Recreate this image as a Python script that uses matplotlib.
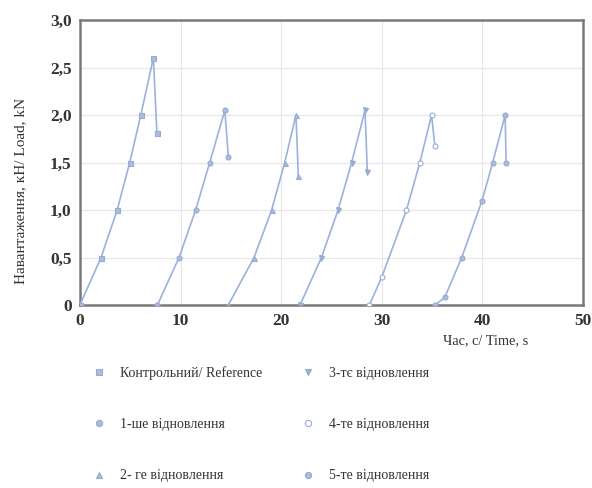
import matplotlib
matplotlib.use("Agg")
import matplotlib.pyplot as plt
from matplotlib.ticker import FuncFormatter

plt.rcParams['font.family'] = ['Liberation Serif', 'DejaVu Serif']

labels = ["Контрольний/ Reference", "1-ше відновлення", "2- ге відновлення",
          "3-тє відновлення", "4-те відновлення", "5-те відновлення"]

t_ref = [0.0, 2.1, 3.7, 4.95, 6.05, 7.3, 7.65]
p_ref = [0.0, 0.5, 1.0, 1.5, 2.0, 2.6, 1.81]

t_1 = [7.7, 9.85, 11.5, 12.9, 14.4, 14.75]
p_1 = [0.0, 0.5, 1.0, 1.5, 2.05, 1.56]

t_2 = [14.75, 17.3, 19.05, 20.35, 21.47, 21.7]
p_2 = [0.0, 0.5, 1.0, 1.5, 2.0, 1.36]

t_3 = [21.87, 24.0, 25.65, 27.0, 28.33, 28.56]
p_3 = [0.0, 0.5, 1.0, 1.5, 2.05, 1.40]

t_4 = [28.76, 29.98, 32.45, 33.78, 34.94, 35.27]
p_4 = [0.0, 0.29, 1.0, 1.5, 2.0, 1.67]

t_5 = [35.3, 36.25, 37.94, 39.93, 41.02, 42.25, 42.35]
p_5 = [0.0, 0.08, 0.5, 1.09, 1.5, 2.0, 1.5]

series_t = [t_ref, t_1, t_2, t_3, t_4, t_5]
series_p = [p_ref, p_1, p_2, p_3, p_4, p_5]
markers = ['s', 'o', '^', 'v', 'o', 'o']
mfcs = ['#a9bde0', '#a9bde0', '#a9bde0', '#98afd6', 'white', '#a9bde0']

line_col = '#9ab2dc'
mk_col = '#98abd0'

fig = plt.figure(figsize=(5.92, 4.88), dpi=100)
ax = fig.add_axes([0.135, 0.375, 0.85, 0.584])

handles = []
for t, p, m, fc, lab in zip(series_t, series_p, markers, mfcs, labels):
    ax.plot(t, p, color=line_col, lw=1.2, zorder=3)
    ax.plot(t, p, linestyle='none', marker=m, ms=3.6, mfc=fc, mec=mk_col,
            mew=0.8, zorder=4)
    h, = ax.plot([], [], linestyle='none', marker=m, ms=4.5, mfc=fc,
                 mec=mk_col, mew=0.8, label=lab)
    handles.append(h)

ax.set_xlim(0, 50)
ax.set_ylim(0, 3.0)
ax.set_xticks([0, 10, 20, 30, 40, 50])
ax.set_yticks([0, 0.5, 1.0, 1.5, 2.0, 2.5, 3.0])

def yfmt(v, pos):
    if abs(v) < 1e-9:
        return "0"
    return f"{v:.1f}".replace('.', ',')

ax.yaxis.set_major_formatter(FuncFormatter(yfmt))
ax.grid(True, color='#e6e6e6', lw=0.8)
ax.set_axisbelow(True)
for s in ax.spines.values():
    s.set_color('#7a7a7a')
    s.set_linewidth(1.8)
ax.tick_params(length=0, labelsize=12.5, colors='#333333', pad=6)
for lbl in ax.get_xticklabels() + ax.get_yticklabels():
    lbl.set_fontweight('bold')

ax.set_ylabel("Навантаження, кН/ Load, kN", fontsize=11, color='#333333')
ax.yaxis.set_label_coords(-0.105, 0.40)
fig.text(0.82, 0.302, "Час, с/ Time, s", fontsize=10.3, color='#333333',
         ha='center', va='center')

leg = fig.legend(handles=handles, ncol=2, loc='upper left',
                 bbox_to_anchor=(0.132, 0.275), frameon=False,
                 fontsize=10, labelspacing=2.75, columnspacing=2.7,
                 handletextpad=0.9, handlelength=1.2)
for txt in leg.get_texts():
    txt.set_color('#333333')

fig.savefig("out.png", dpi=100)
